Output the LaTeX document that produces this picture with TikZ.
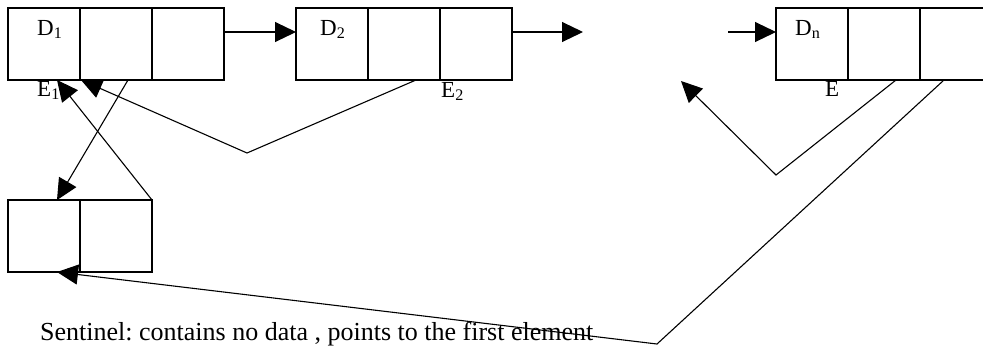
\documentclass[tikz,border=0pt]{standalone}
\usepackage{fontspec}
\setmainfont{Liberation Serif}
\usetikzlibrary{arrows.meta,calc}
\frenchspacing
\begin{document}
\begin{tikzpicture}[x=1pt,y=1pt,
  cell/.style={draw,line width=1.2pt,minimum width=72pt,minimum height=72pt,inner sep=0pt,outer sep=0pt},
  lab/.style={anchor=base west,inner sep=0pt,font=\fontsize{23}{26}\selectfont},
  conn/.style={line width=1.1pt,-{Triangle[length=21pt,width=20pt]}}]
\useasboundingbox (0,0) rectangle (983,-349);
\begin{scope}
\clip (0,0) rectangle (983,-349);
% node 1
\node[cell] (n1a) at (44,-44) {};
\node[cell] (n1b) at (116,-44) {};
\node[cell] (n1c) at (188,-44) {};
% node 2
\node[cell] (n2a) at (332,-44) {};
\node[cell] (n2b) at (404,-44) {};
\node[cell] (n2c) at (476,-44) {};
% node n
\node[cell] (nna) at (812,-44) {};
\node[cell] (nnb) at (884,-44) {};
\node[cell] (nnc) at (956,-44) {};
% sentinel
\node[cell] (s1) at (44,-236) {};
\node[cell] (s2) at (116,-236) {};
\end{scope}
% labels
\node[lab] (d1) at (37,-35) {D\textsubscript{1}};
\node[lab] (d2) at (320,-35) {D\textsubscript{2}};
\node[lab] (dn) at (795,-35) {D\textsubscript{n}};
\node[lab] (e1) at (37,-96) {E\textsubscript{1}};
\node[lab] (e2) at (441,-97) {E\textsubscript{2}};
\node[lab] (en) at (825,-96) {E};
\node[lab,font=\fontsize{26}{30}\selectfont] (sent) at (40,-340) {Sentinel: contains no data , points to the first element};
% free ends and bends
\coordinate (o2) at (583,-32);
\coordinate (in) at (728,-32);
\coordinate (b2) at (247,-153);
\coordinate (bn) at (776,-175);
\coordinate (bs) at (657,-344);
\coordinate (tn) at (681,-81);
% next pointers
\draw[conn] ($(n1c.east)+(0,12)$) -- ($(n2a.west)+(0,12)$);
\draw[conn] ($(n2c.east)+(0,12)$) -- (o2);
\draw[conn] (in) -- ($(nna.west)+(0,12)$);
% sentinel pointers
\draw[conn] ($(n1b.south)+(12,0)$) -- ($(s1.north)+(13,0)$);
\draw[conn] (s2.north east) -- ($(n1a.south)+(13,0)$);
% back pointers
\draw[conn] ($(n2b.south)+(12,0)$) -- (b2) -- ($(n1b.south west)+(1,0)$);
\draw[conn] ($(nnb.south)+(12,0)$) -- (bn) -- (tn);
\draw[conn] ($(nnc.south)+(-12,0)$) -- (bs) -- ($(s1.south)+(13,0)$);
\end{tikzpicture}
\end{document}
